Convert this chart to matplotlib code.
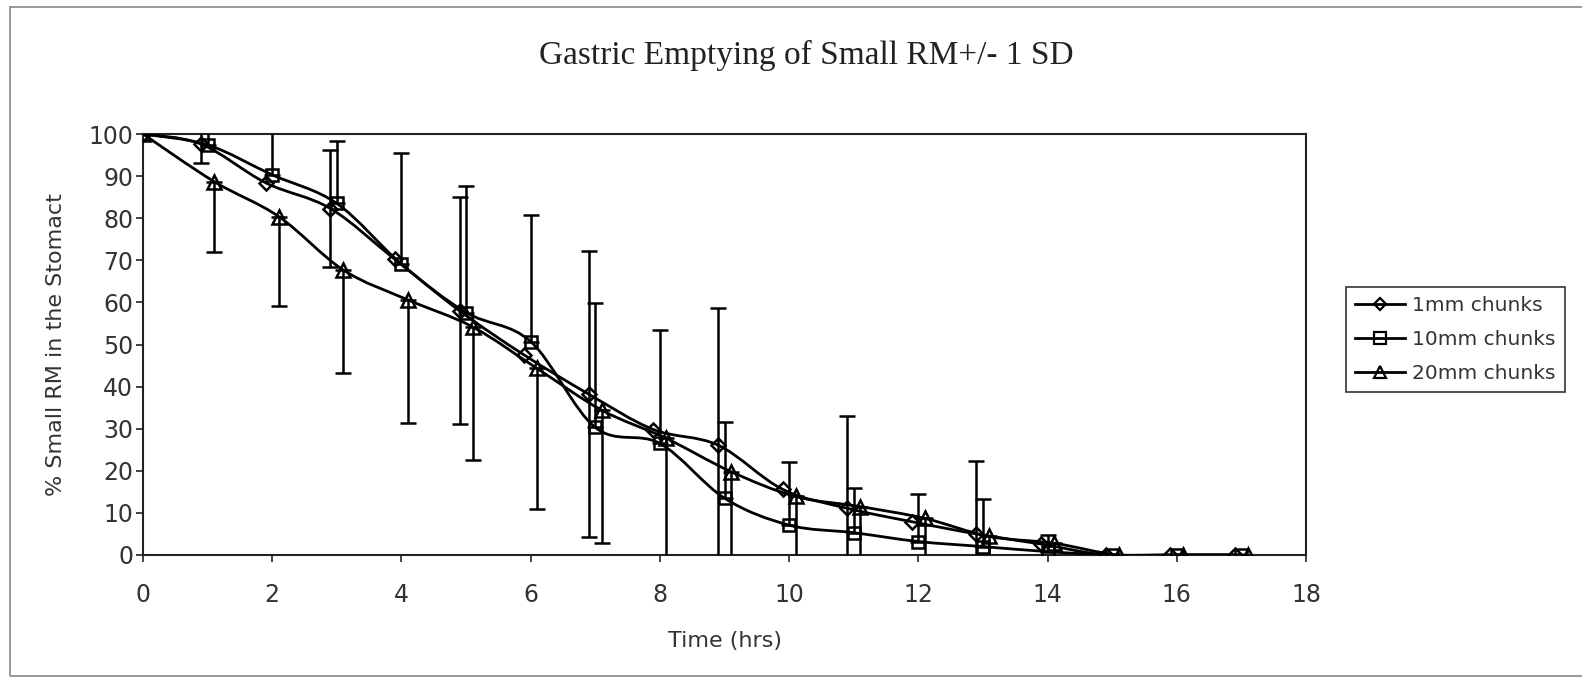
import matplotlib
matplotlib.use('Agg')
import matplotlib.pyplot as plt
from matplotlib.lines import Line2D
from matplotlib.patches import PathPatch, Rectangle
from matplotlib.path import Path
import numpy as np

# Time points (hrs) for each series
time_1mm = [0, 0.9, 1.9, 2.9, 3.9, 4.9, 5.9, 6.9, 7.9, 8.9, 9.9, 10.9, 11.9,
            12.9, 13.9, 14.9, 15.9, 16.9]
time_10mm = [0, 1, 2, 3, 4, 5, 6, 7, 8, 9, 10, 11, 12, 13, 14, 15, 16, 17]
time_20mm = [0, 1.1, 2.1, 3.1, 4.1, 5.1, 6.1, 7.1, 8.1, 9.1, 10.1, 11.1, 12.1,
             13.1, 14.1, 15.1, 16.1, 17.1]

# % small RM in the stomach
pct_1mm = [100, 97.6, 88.4, 82.3, 70.2, 58.0, 47.5, 38.2, 29.8, 26.1, 15.6,
           11.1, 7.9, 5.0, 2.6, 0, 0, 0]
pct_10mm = [100, 97.4, 90.3, 83.5, 69.1, 57.6, 50.7, 30.3, 26.5, 13.5, 7.1,
            5.3, 3.2, 2.0, 0.8, 0, 0, 0]
pct_20mm = [100, 88.7, 80.4, 67.7, 60.6, 54.2, 44.3, 34.4, 27.7, 19.8, 13.9,
            11.5, 8.7, 4.4, 2.8, 0, 0, 0]

# 1 SD (1mm: both ways, 10mm: plus only, 20mm: minus only)
sd_1mm = [0, 4.5, 0, 13.9, 0, 27.0, 0, 34.0, 0, 32.6, 0, 21.9, 0, 17.3, 0,
          0, 0, 0]
sd_10mm = [0, 4.6, 12.7, 14.9, 26.3, 30.1, 30.1, 29.6, 26.9, 18.0, 15.1,
           10.7, 11.3, 11.3, 4.0, 0, 0, 0]
sd_20mm = [0, 16.7, 21.2, 24.5, 29.3, 31.6, 33.4, 31.5, 30.0, 25.0, 18.0,
           15.0, 12.0, 8.0, 4.0, 0, 0, 0]

labels = ['1mm chunks', '10mm chunks', '20mm chunks']
markers = ['D', 's', '^']
msizes = [7.5, 9, 10]

LW = 2.0
SANS = 'DejaVu Sans'


def smooth_path(x, y):
    """Excel-like smoothed line through the points (cubic Bezier)."""
    pts = np.column_stack([x, y]).astype(float)
    n = len(pts)
    verts = [pts[0]]
    codes = [Path.MOVETO]
    for i in range(n - 1):
        p0 = pts[max(i - 1, 0)]
        p1 = pts[i]
        p2 = pts[i + 1]
        p3 = pts[min(i + 2, n - 1)]
        verts += [p1 + (p2 - p0) / 6, p2 - (p3 - p1) / 6, p2]
        codes += [Path.CURVE4] * 3
    return Path(verts, codes)


def add_bars(ax, x, y, lower, upper):
    x = np.asarray(x, float)
    y = np.asarray(y, float)
    lower = np.asarray(lower, float)
    upper = np.asarray(upper, float)
    keep = (lower > 0) | (upper > 0)
    ax.errorbar(x[keep], y[keep], yerr=[lower[keep], upper[keep]], fmt='none',
                ecolor='k', elinewidth=1.8, capsize=6, capthick=1.8, zorder=4)


fig = plt.figure(figsize=(15.82, 6.78), dpi=100, facecolor='w')
ax = fig.add_axes([143 / 1582, 1 - 555 / 678, (1306 - 143) / 1582,
                   (555 - 134) / 678])

series = [(time_1mm, pct_1mm), (time_10mm, pct_10mm), (time_20mm, pct_20mm)]
for (t, p), mk, ms in zip(series, markers, msizes):
    ax.add_patch(PathPatch(smooth_path(t, p), facecolor='none',
                           edgecolor='k', lw=LW, zorder=3))
    ax.plot(t, p, linestyle='none', marker=mk, ms=ms, mfc='none', mec='k',
            mew=1.8, zorder=5)

zeros = np.zeros(len(sd_1mm))
add_bars(ax, time_1mm, pct_1mm, sd_1mm, sd_1mm)
add_bars(ax, time_10mm, pct_10mm, zeros, sd_10mm)
add_bars(ax, time_20mm, pct_20mm, sd_20mm, zeros)

ax.set_xlim(0, 18)
ax.set_ylim(0, 100)
ax.set_xticks(np.arange(0, 19, 2))
ax.set_yticks(np.arange(0, 101, 10))
ax.tick_params(direction='out', length=5, width=1.2, colors='#222222',
               labelsize=17)
ax.tick_params(axis='x', pad=15)
ax.tick_params(axis='y', pad=2)
for lab in ax.get_xticklabels() + ax.get_yticklabels():
    lab.set_family(SANS)
    lab.set_color('#333333')
for sp in ax.spines.values():
    sp.set_color('#222222')
    sp.set_linewidth(1.5)

ax.set_xlabel('Time (hrs)', family=SANS, size=16, color='#333333')
ax.set_ylabel('% Small RM in the Stomact', family=SANS, size=16,
              color='#333333')
ax.xaxis.set_label_coords(0.5, -0.18)
ax.yaxis.set_label_coords(-0.066, 0.5)

fig.text(806 / 1582, 1 - 55 / 678, 'Gastric Emptying of Small RM+/- 1 SD',
         ha='center', va='center', family='Liberation Serif', size=24,
         color='#222222')

handles = [Line2D([], [], color='k', lw=LW, marker=mk, ms=ms - 1, mfc='none',
                  mec='k', mew=1.6)
           for mk, ms in zip(markers, msizes)]
leg = fig.legend(handles, labels, loc='upper left',
                 bbox_to_anchor=(1346 / 1582, 1 - 287 / 678),
                 bbox_transform=fig.transFigure, borderaxespad=0,
                 prop={'family': SANS, 'size': 14.5}, handlelength=2.5,
                 handletextpad=0.35, labelspacing=0.75, borderpad=0.45,
                 fancybox=False, framealpha=1)
leg.get_frame().set_edgecolor('#333333')
leg.get_frame().set_linewidth(1.2)
for txt in leg.get_texts():
    txt.set_color('#333333')

# outer chart-area border
fig.patches.append(Rectangle((10 / 1582, 2 / 678), 1.2, 1 - 9 / 678,
                             transform=fig.transFigure, fill=False,
                             edgecolor='#888888', lw=1.2))

plt.savefig('out.png', dpi=100, facecolor='w')
plt.close()
